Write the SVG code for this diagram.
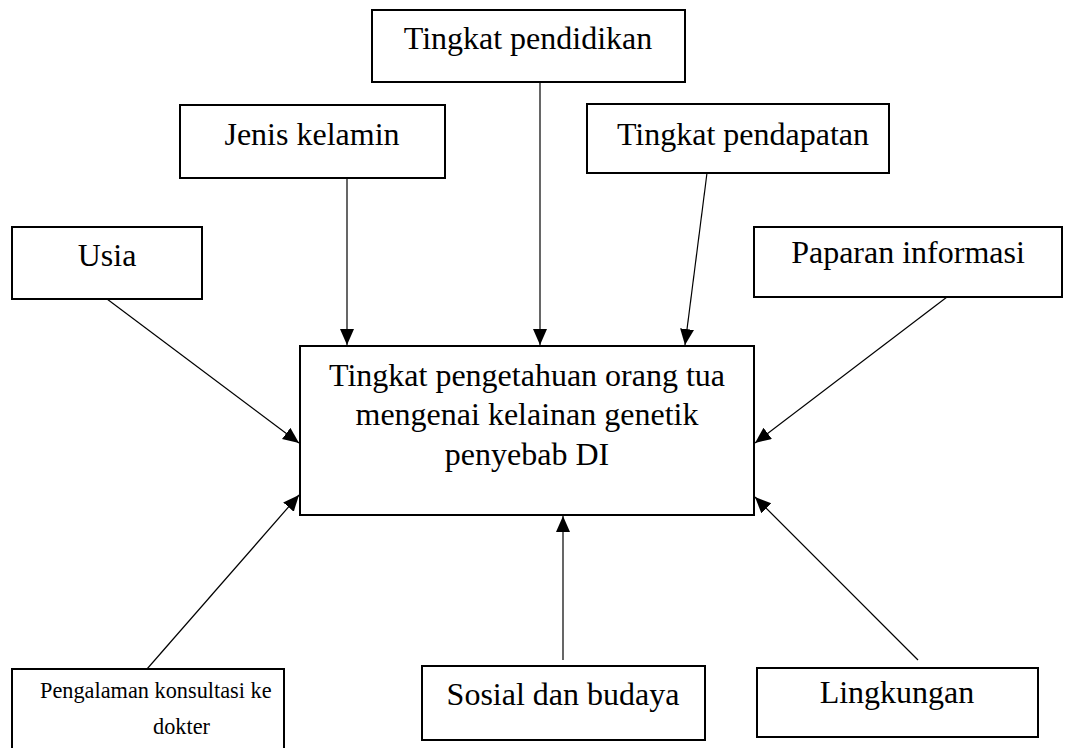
<svg xmlns="http://www.w3.org/2000/svg" width="1066" height="748" viewBox="0 0 1066 748">
<style>
.box{fill:#fff;stroke:#000;stroke-width:2}
.t{font-family:"Liberation Serif","Times New Roman",serif;font-size:32px;fill:#000;text-anchor:middle}
.ts{font-family:"Liberation Serif","Times New Roman",serif;font-size:22.3px;fill:#000}
.c{stroke:#000;stroke-width:1.2;fill:none;marker-end:url(#ah)}
</style>
<defs>
<marker id="ah" markerUnits="userSpaceOnUse" markerWidth="17" markerHeight="15" refX="16" refY="7" orient="auto">
<path d="M0,0 L16,7 L0,14 Z" fill="#000"/>
</marker>
</defs>
<rect width="1066" height="748" fill="#fff"/>
<g id="connectors">
<line class="c" x1="347" y1="178" x2="347" y2="345"/>
<line class="c" x1="540" y1="82" x2="540" y2="345"/>
<line class="c" x1="707" y1="173" x2="685" y2="345"/>
<line class="c" x1="107" y1="299" x2="299" y2="443"/>
<line class="c" x1="947" y1="297" x2="755" y2="443"/>
<line class="c" x1="147" y1="669" x2="299" y2="495"/>
<line class="c" x1="563" y1="660" x2="563" y2="516"/>
<line class="c" x1="918" y1="660" x2="755" y2="497"/>
</g>
<g id="pendidikan"><rect class="box" x="372" y="10" width="313" height="72"/><text class="t" x="528" y="49">Tingkat pendidikan</text></g>
<g id="jenis"><rect class="box" x="180" y="105" width="265" height="73"/><text class="t" x="312" y="145">Jenis kelamin</text></g>
<g id="pendapatan"><rect class="box" x="587" y="104" width="302" height="69"/><text class="t" x="743" y="145">Tingkat pendapatan</text></g>
<g id="usia"><rect class="box" x="12" y="227" width="190" height="72"/><text class="t" x="107" y="266">Usia</text></g>
<g id="paparan"><rect class="box" x="754" y="227" width="308" height="70"/><text class="t" x="908" y="263">Paparan informasi</text></g>
<g id="pusat"><rect class="box" x="300" y="346" width="454" height="169"/>
<text class="t" x="527" y="386">Tingkat pengetahuan orang tua</text>
<text class="t" x="527" y="425">mengenai kelainan genetik</text>
<text class="t" x="527" y="465">penyebab DI</text></g>
<g id="pengalaman"><rect class="box" x="12" y="669" width="272" height="100"/>
<text class="ts" x="40" y="698">Pengalaman konsultasi ke</text>
<text class="ts" x="153" y="734">dokter</text></g>
<g id="sosial"><rect class="box" x="422" y="666" width="283" height="74"/><text class="t" x="563" y="705">Sosial dan budaya</text></g>
<g id="lingkungan"><rect class="box" x="757" y="668" width="281" height="69"/><text class="t" x="897" y="703">Lingkungan</text></g>
</svg>
